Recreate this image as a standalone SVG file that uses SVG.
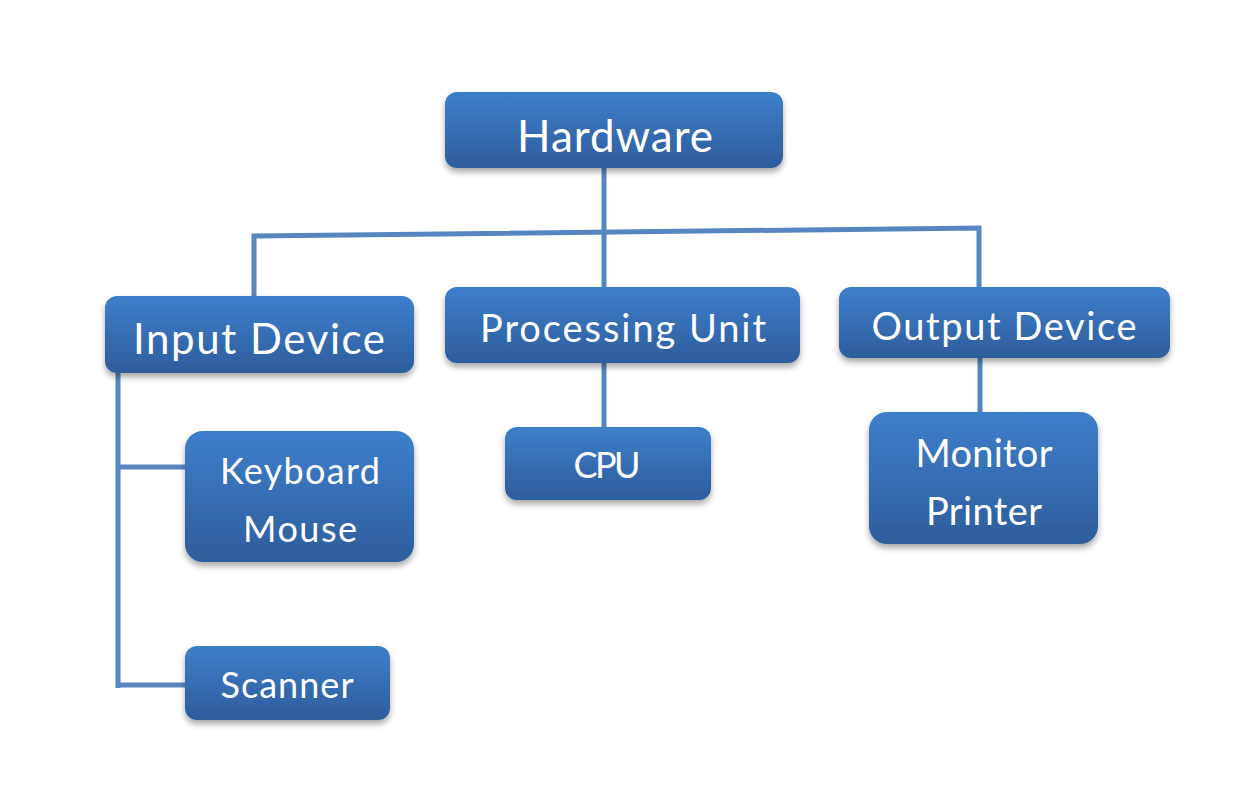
<svg xmlns="http://www.w3.org/2000/svg" width="1236" height="810" viewBox="0 0 1236 810">
<defs>
<linearGradient id="g" x1="0" y1="0" x2="0" y2="1">
<stop offset="0" stop-color="#3E7FCB"/>
<stop offset="1" stop-color="#2D5D9C"/>
</linearGradient>
<filter id="sh" x="-10%" y="-10%" width="120%" height="135%">
<feGaussianBlur in="SourceAlpha" stdDeviation="3"/>
<feOffset dx="0" dy="4" result="b"/>
<feComponentTransfer><feFuncA type="linear" slope="0.35"/></feComponentTransfer>
<feMerge><feMergeNode/><feMergeNode in="SourceGraphic"/></feMerge>
</filter>
</defs>
<style>
.box{fill:url(#g);filter:url(#sh)}
.t{font-family:Lato,"Open Sans","DejaVu Sans",sans-serif;fill:#fff;text-anchor:middle}
.c{stroke:#5685C0;stroke-width:5;fill:none}
</style>
<rect width="1236" height="810" fill="#fff"/>
<g id="connectors">
<path class="c" d="M604 168V287"/>
<path class="c" d="M254 296V236L979 228V287"/>
<path class="c" d="M604 363V427"/>
<path class="c" d="M980 352V412"/>
<path class="c" d="M118 373V688"/>
<path class="c" d="M118 467H185"/>
<path class="c" d="M118 685H185"/>
</g>
<g id="hardware"><rect class="box" x="445" y="92" width="338" height="76" rx="12"/><text class="t" x="615" y="152" font-size="44" textLength="196" lengthAdjust="spacing">Hardware</text></g>
<g id="input-device"><rect class="box" x="105" y="296" width="309" height="77" rx="12"/><text class="t" x="259" y="354" font-size="42" textLength="252" lengthAdjust="spacing">Input Device</text></g>
<g id="processing-unit"><rect class="box" x="445" y="287" width="355" height="76" rx="12"/><text class="t" x="623" y="342" font-size="38" textLength="286" lengthAdjust="spacing">Processing Unit</text></g>
<g id="output-device"><rect class="box" x="839" y="287" width="331" height="71" rx="12"/><text class="t" x="1004" y="340" font-size="38" textLength="265" lengthAdjust="spacing">Output Device</text></g>
<g id="keyboard-mouse"><rect class="box" x="185" y="431" width="229" height="131" rx="18"/><text class="t" x="300" y="484" font-size="36" textLength="160" lengthAdjust="spacing">Keyboard</text><text class="t" x="300" y="542" font-size="36" textLength="114" lengthAdjust="spacing">Mouse</text></g>
<g id="scanner"><rect class="box" x="185" y="646" width="205" height="74" rx="12"/><text class="t" x="287" y="698" font-size="36" textLength="133" lengthAdjust="spacing">Scanner</text></g>
<g id="cpu"><rect class="box" x="505" y="427" width="206" height="73" rx="12"/><text class="t" x="607" y="478" font-size="36" textLength="67" lengthAdjust="spacing">CPU</text></g>
<g id="monitor-printer"><rect class="box" x="869" y="412" width="229" height="132" rx="18"/><text class="t" x="984" y="467" font-size="38" textLength="137" lengthAdjust="spacing">Monitor</text><text class="t" x="984" y="525" font-size="38" textLength="116" lengthAdjust="spacing">Printer</text></g>
</svg>
